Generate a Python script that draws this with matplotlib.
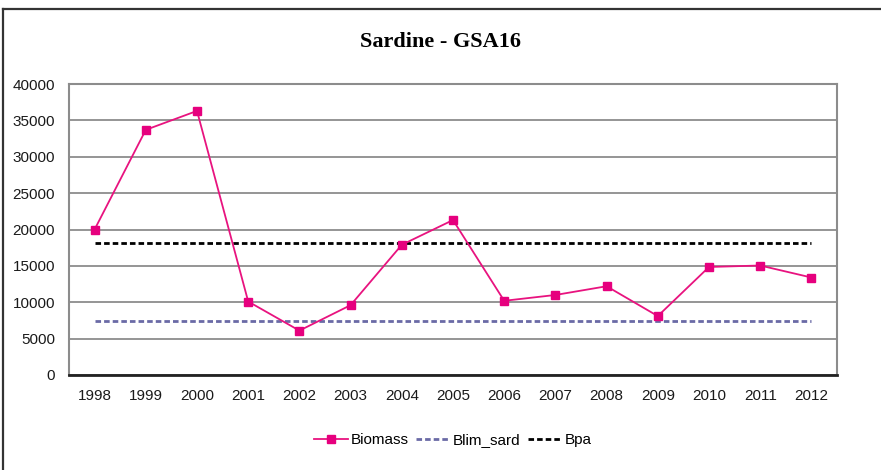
import matplotlib
matplotlib.use("Agg")
import matplotlib.pyplot as plt
from matplotlib.lines import Line2D

years = ["1998", "1999", "2000", "2001", "2002", "2003", "2004", "2005",
         "2006", "2007", "2008", "2009", "2010", "2011", "2012"]
biomass = [20000, 33700, 36300, 10100, 6100, 9600, 17900, 21300,
           10200, 11000, 12200, 8100, 14850, 15050, 13400]
blim_sard = [7400] * len(years)
bpa = [18200] * len(years)
yticks = [0, 5000, 10000, 15000, 20000, 25000, 30000, 35000, 40000]

W, H = 881, 470
fig = plt.figure(figsize=(W / 100, H / 100), dpi=100)
ax = fig.add_axes([69 / W, 1 - 375 / H, (837 - 69) / W, (375 - 84) / H])

x = list(range(len(years)))
ax.plot(x, biomass, color="#E8137F", lw=1.3, marker="s", ms=6,
        mfc="#E6007E", mec="#E6007E", label="Biomass", zorder=4)
ax.plot(x, blim_sard, color="#6A6AA6", lw=2.0, ls=(0, (2.0, 1.1)),
        label="Blim_sard", zorder=3)
ax.plot(x, bpa, color="#000000", lw=2.0, ls=(0, (2.0, 1.1)),
        label="Bpa", zorder=3)

ax.set_xlim(-0.5, len(years) - 0.5)
ax.set_ylim(0, 40000)
ax.set_yticks(yticks)
ax.set_yticklabels([str(v) for v in yticks])
ax.set_xticks(x)
ax.set_xticklabels(years)
ax.grid(axis="y", color="#8C8C8C", lw=1.3)
ax.set_axisbelow(True)
ax.tick_params(length=0, labelsize=11, colors="#1A1A1A", pad=10)
ax.tick_params(axis="y", pad=10)
for t in ax.get_xticklabels() + ax.get_yticklabels():
    t.set_fontfamily("Liberation Sans")
for side in ["top", "right", "left"]:
    ax.spines[side].set_color("#8C8C8C")
    ax.spines[side].set_linewidth(1.5)
ax.spines["bottom"].set_color("#222222")
ax.spines["bottom"].set_linewidth(2)

fig.text(441 / W, 1 - 42 / H, "Sardine - GSA16", ha="center", va="center",
         fontsize=16, fontweight="bold", family="Liberation Serif")

leg = ax.legend(loc="center", bbox_to_anchor=(0.5, -0.225), ncol=3, frameon=False,
                prop={"family": "Liberation Sans", "size": 11},
                handlelength=2.2, handletextpad=0.2, columnspacing=0.5)

fig.add_artist(Line2D([3 / W, 1], [1 - 9 / H, 1 - 9 / H], color="#333333", lw=1.6,
                      transform=fig.transFigure))
fig.add_artist(Line2D([3 / W, 3 / W], [0, 1 - 9 / H], color="#333333", lw=1.6,
                      transform=fig.transFigure))

fig.savefig("out.png", dpi=100)
